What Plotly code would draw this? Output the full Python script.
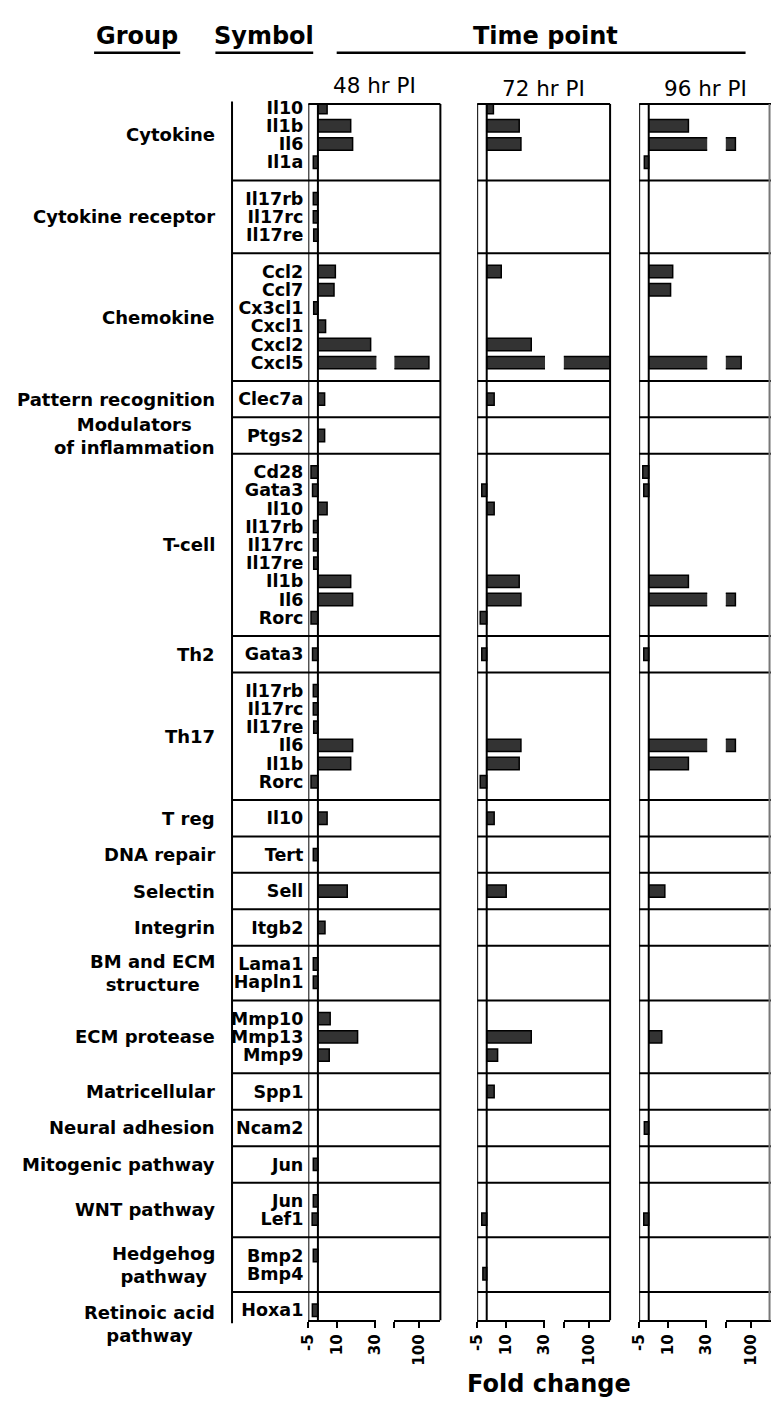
import plotly.graph_objects as go

# ---------------- data ----------------
group_names = ["Cytokine", "Cytokine receptor", "Chemokine", "Pattern recognition",
               "Modulators<br>of inflammation", "T-cell", "Th2", "Th17", "T reg",
               "DNA repair", "Selectin", "Integrin", "BM and ECM<br>structure",
               "ECM protease", "Matricellular", "Neural adhesion", "Mitogenic pathway",
               "WNT pathway", "Hedgehog<br>pathway", "Retinoic acid<br>pathway"]
group_sizes = [4, 3, 6, 1, 1, 9, 1, 6, 1, 1, 1, 1, 2, 3, 1, 1, 1, 2, 2, 1]

symbols = ["Il10", "Il1b", "Il6", "Il1a",
           "Il17rb", "Il17rc", "Il17re",
           "Ccl2", "Ccl7", "Cx3cl1", "Cxcl1", "Cxcl2", "Cxcl5",
           "Clec7a",
           "Ptgs2",
           "Cd28", "Gata3", "Il10", "Il17rb", "Il17rc", "Il17re", "Il1b", "Il6", "Rorc",
           "Gata3",
           "Il17rb", "Il17rc", "Il17re", "Il6", "Il1b", "Rorc",
           "Il10",
           "Tert",
           "Sell",
           "Itgb2",
           "Lama1", "Hapln1",
           "Mmp10", "Mmp13", "Mmp9",
           "Spp1",
           "Ncam2",
           "Jun",
           "Jun", "Lef1",
           "Bmp2", "Bmp4",
           "Hoxa1"]

time_points = ["48 hr PI", "72 hr PI", "96 hr PI"]

fc_48 = [4.8, 17.1, 18.1, -2.4,
         -2.4, -2.4, -2.2,
         9.1, 8.4, -2.2, 4.0, 27.5, 105,
         3.5,
         3.5,
         -3.6, -2.8, 4.8, -2.3, -2.3, -2.2, 17.1, 18.1, -3.6,
         -2.8,
         -2.4, -2.4, -2.2, 18.1, 17.1, -3.6,
         4.8,
         -2.4,
         15.3,
         3.7,
         -2.4, -2.4,
         6.4, 20.7, 5.9,
         None,
         None,
         -2.4,
         -2.4, -3.0,
         -2.4, None,
         -2.9]

fc_72 = [3.5, 17.0, 17.9, None,
         None, None, None,
         7.6, None, None, None, 23.3, 115,
         3.9,
         None,
         None, -2.6, 3.9, None, None, None, 17.0, 17.9, -3.4,
         -2.6,
         None, None, None, 17.9, 17.0, -3.4,
         3.9,
         None,
         10.2,
         None,
         None, None,
         None, 23.3, 5.7,
         3.9,
         None,
         None,
         None, -2.6,
         None, -2.0,
         None]

fc_96 = [None, 20.7, 92, -2.3,
         None, None, None,
         12.5, 11.4, None, None, None, 95,
         None,
         None,
         -3.1, -2.6, None, None, None, None, 20.7, 92, None,
         -2.6,
         None, None, None, 92, 20.7, None,
         None,
         None,
         8.4,
         None,
         None, None,
         None, 6.8, None,
         None,
         -2.3,
         None,
         None, -2.6,
         None, None,
         None]

ticks_low = [-5, 10, 30]
ticks_high = [100]

series = [fc_48, fc_72, fc_96]

# ---------------- geometry ----------------
W, H = 779, 1401
def px(x):
    return x / W
def py(y):
    return 1 - y / H

FRAME_TOP, AXIS_Y = 98.5, 1320
ROW1_Y, PITCH = 102, 18.3
LOW_MIN, LOW_MAX, HIGH_MIN = -5, 30.5, 87
SYMCOL_X = 228
# (left px, px per unit, upper segment start px, right px)
panels = [(306, 1.96, 394, 441), (478.6, 1.954, 567.2, 614.5), (644.2, 1.96, 732.8, 779)]
header_y = [80, 83, 83]

# row positions from group structure
row_pos, bounds, centers = [], [], []
pos = 0
for n in group_sizes:
    bounds.append(pos)
    rows = [pos + k + 1 for k in range(n)]
    row_pos += rows
    centers.append(sum(rows) / n)
    pos += n + 1

u_top = 1 - (ROW1_Y - FRAME_TOP) / PITCH
u_bot = 1 + (AXIS_Y - ROW1_Y) / PITCH

BOLD = "DejaVu Sans"
fig = go.Figure()

layout = dict(width=W, height=H, margin=dict(l=0, r=0, t=0, b=0),
              plot_bgcolor="white", paper_bgcolor="white",
              barmode="overlay", showlegend=False)

xcommon = dict(showline=True, linecolor="black", linewidth=2, ticks="outside",
               ticklen=6, tickwidth=2, tickcolor="black", tickangle=-90,
               tickfont=dict(family=BOLD, size=15, color="black", weight="bold"),
               showgrid=False, zeroline=False, fixedrange=True, anchor="y")

shapes = []
annotations = []
LW = 2

for i, (left, sc, bstart, end) in enumerate(panels):
    a, b = 2 * i + 1, 2 * i + 2
    na = "xaxis" if a == 1 else f"xaxis{a}"
    nb = f"xaxis{b}"
    ra = "x" if a == 1 else f"x{a}"
    rb = f"x{b}"
    layout[na] = dict(domain=[px(left), px(left + (LOW_MAX - LOW_MIN) * sc)],
                      range=[LOW_MIN, LOW_MAX], tickvals=ticks_low,
                      ticktext=[str(v) for v in ticks_low], **xcommon)
    layout[nb] = dict(domain=[px(bstart), min(1.0, px(end))],
                      range=[HIGH_MIN, HIGH_MIN + (end - bstart) / sc],
                      tickvals=[HIGH_MIN] + ticks_high,
                      ticktext=[""] + [str(v) for v in ticks_high], **xcommon)
    for ref in (ra, rb):
        fig.add_trace(go.Bar(x=series[i], y=row_pos, orientation="h",
                             xaxis=ref, yaxis="y", width=0.68,
                             marker=dict(color="#333333",
                                         line=dict(color="black", width=1.5)),
                             hoverinfo="skip"))
    # frame
    x0 = SYMCOL_X if i == 0 else left
    shapes.append(dict(type="line", xref="paper", yref="paper",
                       x0=px(left), x1=px(end), y0=py(FRAME_TOP), y1=py(FRAME_TOP),
                       line=dict(color="black", width=LW)))
    for bd in bounds[1:]:
        shapes.append(dict(type="line", xref="paper", yref="y",
                           x0=px(x0), x1=px(end), y0=bd, y1=bd,
                           line=dict(color="black", width=LW)))
    for xv in (LOW_MIN, 0):
        shapes.append(dict(type="line", xref=ra, yref="y domain",
                           x0=xv, x1=xv, y0=0, y1=1,
                           line=dict(color="black", width=LW)))
    shapes.append(dict(type="line", xref="paper", yref="y domain",
                       x0=px(min(end, W - 1.5)), x1=px(min(end, W - 1.5)), y0=0, y1=1,
                       line=dict(color="black" if i < 2 else "#777777", width=LW)))
    annotations.append(dict(text=time_points[i], xref="paper", yref="paper",
                            x=px((left + end) / 2), y=py(header_y[i]),
                            xanchor="center", yanchor="middle", showarrow=False,
                            font=dict(family="DejaVu Sans", size=21.5, color="black")))

layout["yaxis"] = dict(domain=[py(AXIS_Y), py(FRAME_TOP)], range=[u_bot, u_top],
                       anchor="x", tickvals=row_pos, ticktext=symbols, ticks="",
                       showline=False, showgrid=False, zeroline=False,
                       ticklabelstandoff=4, fixedrange=True,
                       tickfont=dict(family=BOLD, size=17.5, color="black", weight="bold"))

# symbol column line
shapes.append(dict(type="line", xref="paper", yref="paper",
                   x0=px(SYMCOL_X), x1=px(SYMCOL_X), y0=py(96), y1=py(1323),
                   line=dict(color="black", width=LW)))

# group labels
for gi, name in enumerate(group_names):
    annotations.append(dict(text=name, xref="paper", yref="y", x=px(213), y=centers[gi],
                            xanchor="right", yanchor="middle", align="center",
                            yshift=-14 if gi == len(group_names) - 1 else 0,
                            showarrow=False,
                            font=dict(family=BOLD, size=18, color="black", weight="bold")))

# column headers with underlines
for text, cx, x0, x1 in [("Group", 131, 87, 175), ("Symbol", 261, 211, 311),
                         ("Time point", 548, 335, 753)]:
    annotations.append(dict(text=text, xref="paper", yref="paper", x=px(cx), y=py(30),
                            xanchor="center", yanchor="middle", showarrow=False,
                            font=dict(family=BOLD, size=24, color="black", weight="bold")))
    shapes.append(dict(type="line", xref="paper", yref="paper",
                       x0=px(x0), x1=px(x1), y0=py(47), y1=py(47),
                       line=dict(color="black", width=2.5)))

annotations.append(dict(text="Fold change", xref="paper", yref="paper", x=px(552), y=py(1384),
                        xanchor="center", yanchor="middle", showarrow=False,
                        font=dict(family=BOLD, size=24, color="black", weight="bold")))

layout["shapes"] = shapes
layout["annotations"] = annotations
fig.update_layout(**layout)
fig.write_html("out.html", config={"displayModeBar": False},
               post_script="document.body.style.margin='0px';"
                           "document.body.style.overflow='hidden';"
                           "document.documentElement.style.overflow='hidden';")
